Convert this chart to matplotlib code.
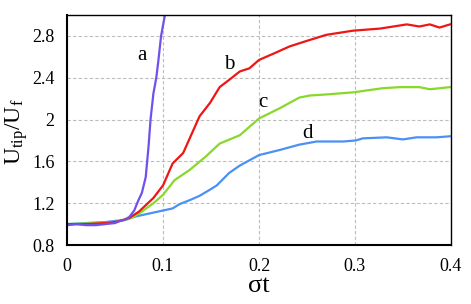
import matplotlib
matplotlib.use("Agg")
import matplotlib.pyplot as plt

plt.rcParams['font.family'] = 'serif'
plt.rcParams['font.serif'] = ['Liberation Serif', 'DejaVu Serif']
plt.rcParams['mathtext.fontset'] = 'custom'
plt.rcParams['mathtext.rm'] = 'Liberation Serif'
plt.rcParams['mathtext.it'] = 'Liberation Serif:italic'

# curve a
a_x = [0, 0.01, 0.02, 0.03, 0.04, 0.05, 0.055, 0.06, 0.065, 0.07, 0.074, 0.078, 0.082, 0.085, 0.087, 0.09, 0.093, 0.095, 0.098, 0.103]
a_y = [0.99, 1.0, 0.99, 0.99, 1.0, 1.01, 1.03, 1.04, 1.07, 1.13, 1.22, 1.30, 1.45, 1.75, 2.0, 2.25, 2.4, 2.55, 2.8, 3.05]

# curve b
b_x = [0, 0.02, 0.04, 0.05, 0.055, 0.065, 0.075, 0.09, 0.1, 0.11, 0.121, 0.138, 0.149, 0.159, 0.169, 0.18, 0.19, 0.2, 0.215,
       0.232, 0.249, 0.27, 0.298, 0.326, 0.354, 0.367, 0.378, 0.388, 0.399]
b_y = [1.0, 1.0, 1.01, 1.02, 1.03, 1.06, 1.12, 1.25, 1.37, 1.58, 1.68, 2.03, 2.16, 2.31, 2.38, 2.46, 2.49, 2.57, 2.63,
       2.70, 2.75, 2.81, 2.85, 2.87, 2.91, 2.89, 2.91, 2.88, 2.91]

# curve c
c_x = [0, 0.03, 0.05, 0.065, 0.075, 0.09, 0.1, 0.112, 0.128, 0.145, 0.159, 0.18, 0.2, 0.222, 0.232, 0.242, 0.253,
       0.27, 0.298, 0.329, 0.347, 0.367, 0.378, 0.399]
c_y = [1.0, 1.01, 1.02, 1.05, 1.1, 1.2, 1.28, 1.42, 1.52, 1.65, 1.77, 1.85, 2.01, 2.11, 2.16, 2.21, 2.23,
       2.24, 2.26, 2.30, 2.31, 2.31, 2.29, 2.31]

# curve d
d_x = [0, 0.02, 0.04, 0.06, 0.07, 0.085, 0.1, 0.11, 0.117, 0.128, 0.138, 0.149, 0.156, 0.169, 0.18, 0.2, 0.222, 0.242,
       0.26, 0.288, 0.301, 0.308, 0.333, 0.35, 0.364, 0.385, 0.399]
d_y = [1.0, 1.01, 1.02, 1.04, 1.07, 1.1, 1.13, 1.15, 1.19, 1.23, 1.27, 1.33, 1.37, 1.49, 1.56, 1.66, 1.71, 1.76,
       1.79, 1.79, 1.80, 1.82, 1.83, 1.81, 1.83, 1.83, 1.84]

labels = ['a', 'b', 'c', 'd']
label_pos = [(0.078, 2.61), (0.169, 2.53), (0.204, 2.16), (0.251, 1.87)]

x_ticks = [0, 0.1, 0.2, 0.3, 0.4]
x_ticklabels = ['0', '0.1', '0.2', '0.3', '0.4']
y_ticks = [0.8, 1.2, 1.6, 2.0, 2.4, 2.8]
y_ticklabels = ['0.8', '1.2', '1.6', '2', '2.4', '2.8']

fig = plt.figure(figsize=(4.71, 3.04), dpi=100)
ax = fig.add_axes([0.1423, 0.194, 0.8152, 0.7567])

ax.plot(d_x, d_y, color='#4A90F5', lw=1.6)
ax.plot(c_x, c_y, color='#88D82A', lw=1.6)
ax.plot(b_x, b_y, color='#F01515', lw=1.6)
ax.plot(a_x, a_y, color='#7050EE', lw=1.6)

for lab, (lx, ly) in zip(labels, label_pos):
    ax.text(lx, ly, lab, fontsize=15, ha='center', va='center')

ax.set_xlim(0, 0.4)
ax.set_ylim(0.8, 3.0)
ax.set_xticks(x_ticks)
ax.set_xticklabels(x_ticklabels)
ax.set_yticks(y_ticks)
ax.set_yticklabels(y_ticklabels)
ax.tick_params(length=0, labelsize=13, pad=9)
ax.grid(True, color='#BDBDBD', ls=(0, (3, 2)), lw=0.8)
ax.set_axisbelow(True)
for s in ['left', 'bottom']:
    ax.spines[s].set_linewidth(1.5)
for s in ['top', 'right']:
    ax.spines[s].set_linewidth(1.0)

ax.set_xlabel('σt', fontsize=19, labelpad=0)
fig.text(17 / 471, 1 - 132 / 304, r'$\mathrm{U_{tip}/U_f}$', fontsize=17,
         rotation=90, ha='center', va='center')

fig.savefig('out.png', dpi=100)
